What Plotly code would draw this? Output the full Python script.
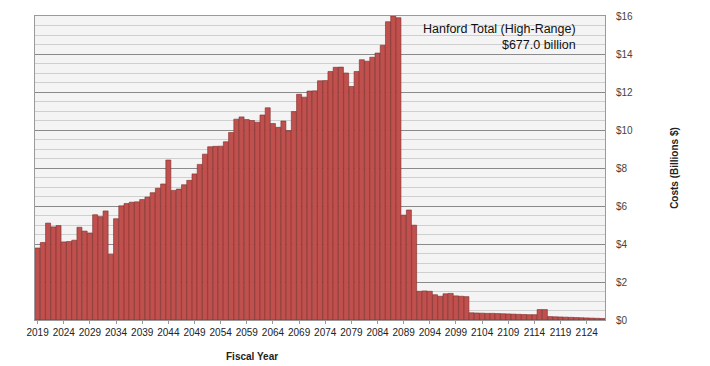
import plotly.graph_objects as go

years = list(range(2019, 2128))
costs = [
    3.79, 4.08, 5.10, 4.90, 4.97, 4.11, 4.13, 4.20, 4.88, 4.68,
    4.58, 5.54, 5.44, 5.74, 3.46, 5.33, 6.01, 6.13, 6.20, 6.22,
    6.34, 6.47, 6.70, 6.93, 7.16, 8.42, 6.82, 6.89, 7.12, 7.35,
    7.69, 8.19, 8.73, 9.12, 9.14, 9.15, 9.38, 9.87, 10.57, 10.69,
    10.55, 10.50, 10.41, 10.79, 11.17, 10.34, 10.14, 10.47, 9.96, 10.97,
    11.88, 11.73, 12.05, 12.06, 12.59, 12.60, 13.08, 13.30, 13.31, 13.00,
    12.29, 13.08, 13.70, 13.62, 13.83, 14.05, 14.46, 15.70, 16.00, 15.91,
    5.52, 5.79, 4.99, 1.51, 1.53, 1.51, 1.33, 1.25, 1.38, 1.40,
    1.27, 1.25, 1.23, 0.38, 0.37, 0.36, 0.35, 0.35, 0.34, 0.33,
    0.32, 0.31, 0.30, 0.29, 0.28, 0.28, 0.55, 0.55, 0.18, 0.17,
    0.16, 0.15, 0.14, 0.13, 0.12, 0.11, 0.10, 0.09, 0.08,
]
tick_years = list(range(2019, 2125, 5))
y_ticks = list(range(0, 17, 2))
y_tick_labels = [f"${v}" for v in y_ticks]

FONT = "Liberation Sans, Arial, sans-serif"

fig = go.Figure()
fig.add_trace(go.Bar(
    x=years, y=costs,
    marker=dict(color="#c0504d", line=dict(color="#7d2b29", width=0.6)),
    showlegend=False,
))

fig.update_layout(
    width=710, height=366,
    margin=dict(l=35, r=105, t=10, b=46),
    paper_bgcolor="white",
    plot_bgcolor="#f4f4f4",
    bargap=0.04,
    font=dict(family=FONT, color="#333333", size=10),
    xaxis=dict(
        range=[2018.5, 2127.5],
        tickmode="array", tickvals=tick_years,
        ticktext=[str(y) for y in tick_years],
        tickfont=dict(size=10, color="#222222"),
        showgrid=False, zeroline=False,
        showline=True, linecolor="#9a9a9a", linewidth=1, mirror=True,
        ticks="outside", ticklen=3, tickcolor="#9a9a9a",
    ),
    yaxis=dict(
        side="right",
        range=[0, 16],
        tickmode="array", tickvals=y_ticks, ticktext=y_tick_labels,
        tickfont=dict(size=10, color="#444444"),
        showgrid=True, gridcolor="#8a8a8a", gridwidth=1,
        minor=dict(dtick=0.5, showgrid=True, gridcolor="#cfcfcf", gridwidth=1),
        zeroline=False,
        showline=True, linecolor="#9a9a9a", linewidth=1, mirror=True,
        ticklabelstandoff=8,
        title=dict(text="<b>Costs (Billions $)</b>", font=dict(size=10, color="#222222"), standoff=38),
    ),
    annotations=[
        dict(
            text="Hanford Total (High-Range)<br>$677.0 billion",
            xref="paper", yref="paper", x=(578 - 35) / 570, y=(366 - 46 - 14) / 310,
            xanchor="right", yanchor="top", align="right", showarrow=False,
            font=dict(size=12.5, color="#111111", family=FONT),
        ),
        dict(
            text="<b>Fiscal Year</b>",
            xref="paper", yref="paper", x=(252 - 35) / 570, y=-(357 - 320) / 310,
            xanchor="center", yanchor="middle", showarrow=False,
            font=dict(size=10, color="#222222", family=FONT),
        ),
    ],
)

fig.write_html("out.html")
